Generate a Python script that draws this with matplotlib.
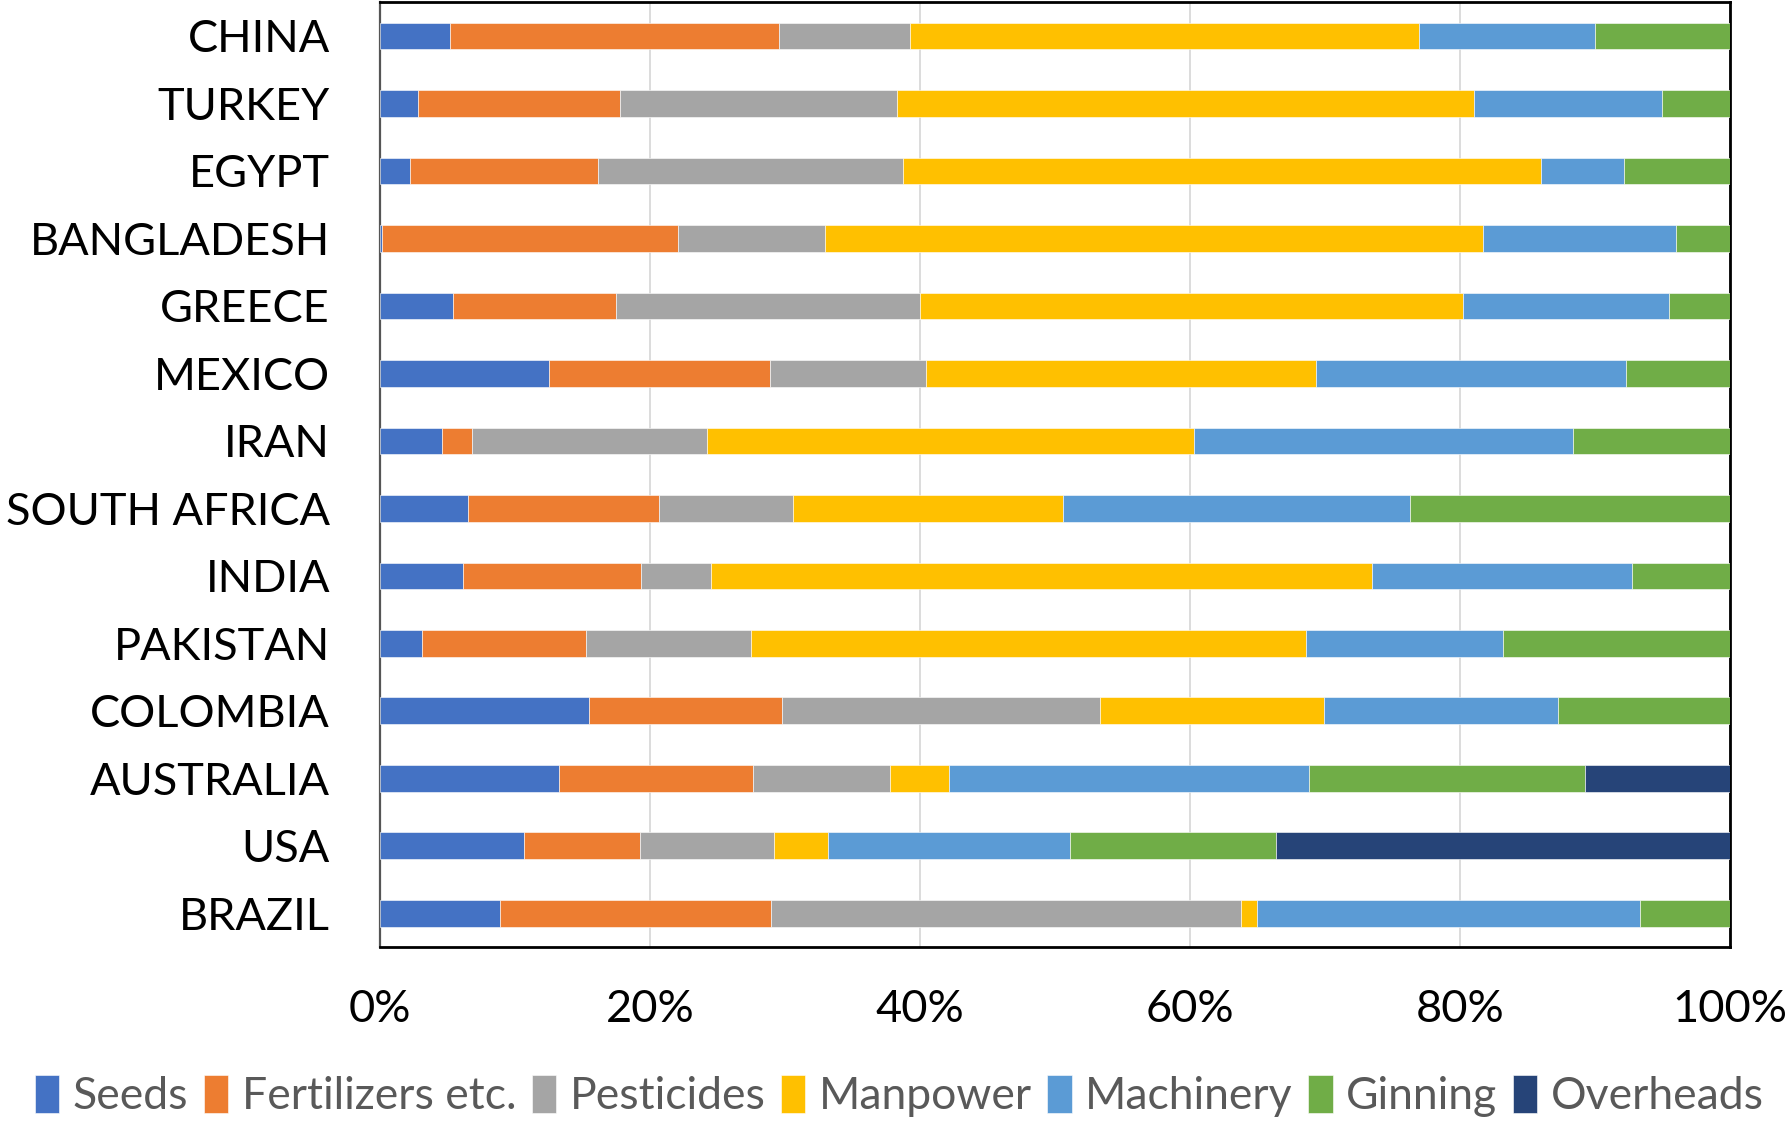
import matplotlib
matplotlib.use("Agg")
import matplotlib.pyplot as plt
import numpy as np

plt.rcParams['font.family'] = ['Lato', 'DejaVu Sans']

# Countries, listed top to bottom
countries = ["CHINA", "TURKEY", "EGYPT", "BANGLADESH", "GREECE", "MEXICO", "IRAN",
             "SOUTH AFRICA", "INDIA", "PAKISTAN", "COLOMBIA", "AUSTRALIA", "USA", "BRAZIL"]

# Share of production cost per component (%)
seeds       = [5.2, 2.8, 2.25, 0.17, 5.4, 12.5, 4.6, 6.5, 6.15, 3.1, 15.5, 13.3, 10.7, 8.9]
fertilizers = [24.4, 15.0, 13.9, 21.9, 12.1, 16.4, 2.2, 14.2, 13.2, 12.2, 14.3, 14.4, 8.6, 20.1]
pesticides  = [9.7, 20.5, 22.6, 10.95, 22.5, 11.5, 17.4, 9.9, 5.2, 12.2, 23.6, 10.1, 9.9, 34.8]
manpower    = [37.75, 42.8, 47.2, 48.7, 40.2, 28.9, 36.1, 20.0, 48.9, 41.1, 16.6, 4.4, 4.0, 1.2]
machinery   = [13.0, 13.9, 6.2, 14.3, 15.2, 22.9, 28.1, 25.7, 19.3, 14.6, 17.4, 26.7, 17.9, 28.4]
ginning     = [10.0, 5.0, 7.8, 4.0, 4.5, 7.7, 11.6, 23.7, 7.2, 16.8, 12.7, 20.5, 15.3, 6.6]
overheads   = [0, 0, 0, 0, 0, 0, 0, 0, 0, 0, 0, 10.7, 33.6, 0]

series_names = ["Seeds", "Fertilizers etc.", "Pesticides", "Manpower", "Machinery", "Ginning", "Overheads"]
series_colors = ["#4472C4", "#ED7D31", "#A5A5A5", "#FFC000", "#5B9BD5", "#70AD47", "#264478"]
x_ticks = [0, 20, 40, 60, 80, 100]
x_tick_labels = ["0%", "20%", "40%", "60%", "80%", "100%"]

series = [seeds, fertilizers, pesticides, manpower, machinery, ginning, overheads]
data = np.array(series, dtype=float)
data = data / data.sum(axis=0) * 100.0

fig = plt.figure(figsize=(17.86, 11.21), dpi=100)
ax = fig.add_axes([0.2127, 0.1552, 0.9684 - 0.2127, 0.998 - 0.1552])

y = np.arange(len(countries))
left = np.zeros(len(countries))
handles = []
for vals, name, col in zip(data, series_names, series_colors):
    h = ax.barh(y, vals, left=left, height=0.395, color=col, label=name,
                edgecolor="white", linewidth=0.4, zorder=3)
    handles.append(h)
    left += vals

ax.set_ylim(len(countries) - 0.5, -0.5)
ax.set_xlim(0, 100)
ax.set_yticks(y)
ax.set_yticklabels(countries)
ax.set_xticks(x_ticks)
ax.set_xticklabels(x_tick_labels)
ax.tick_params(axis="both", length=0, labelsize=32.5, colors="black")
ax.tick_params(axis="y", pad=36)
ax.tick_params(axis="x", pad=30)

ax.xaxis.grid(True, color="#d9d9d9", linewidth=1.3, zorder=0)
ax.set_axisbelow(True)
for side in ["top", "right", "bottom"]:
    ax.spines[side].set_color("black")
    ax.spines[side].set_linewidth(2.0)
ax.spines["left"].set_color("#555555")
ax.spines["left"].set_linewidth(1.6)

fig.legend(handles=handles, labels=series_names, loc="center", ncol=7,
           bbox_to_anchor=(0.5035, 1 - 1096 / 1121), frameon=False,
           fontsize=32, labelcolor="#595959", handlelength=0.55, handleheight=0.95,
           handletextpad=0.3, columnspacing=0.35)

fig.savefig("out.png", dpi=100)
